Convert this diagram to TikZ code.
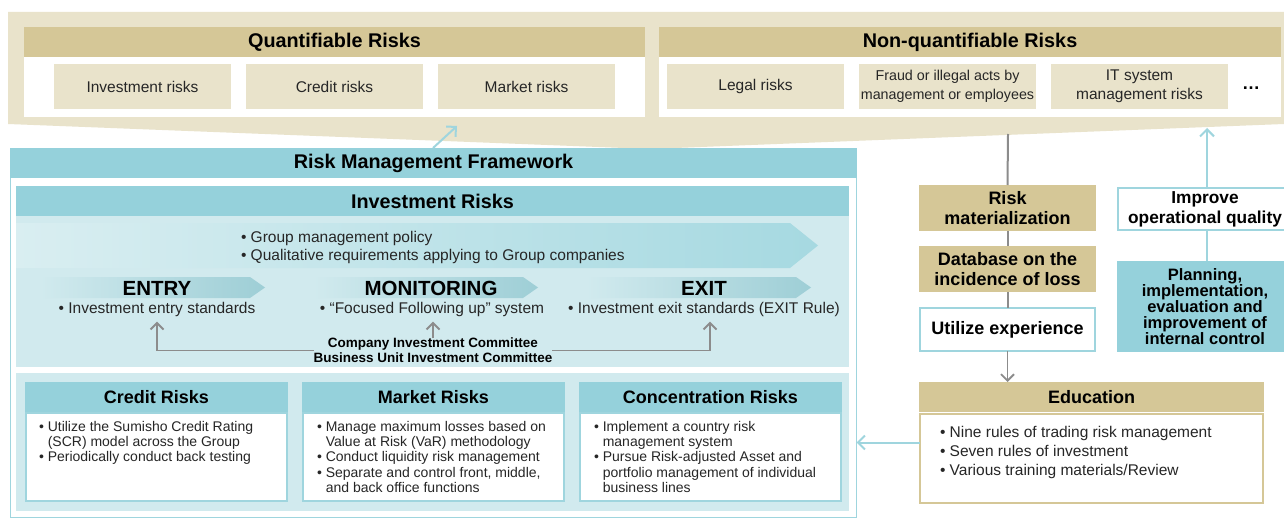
\documentclass[tikz,border=0pt]{standalone}
\usepackage{fontspec}
\setmainfont{Liberation Sans}
\usetikzlibrary{arrows.meta}
\newcommand\fsz[2]{\fontsize{#1}{#2}\selectfont}
\newcommand\ind{\phantom{•}\ }
\definecolor{tanC}{HTML}{D5C797}
\definecolor{beigeL}{HTML}{E9E3CB}
\definecolor{tealH}{HTML}{95D1DB}
\definecolor{tealL}{HTML}{D1EAEE}
\definecolor{tealB}{HTML}{9FD5DE}
\definecolor{tealA}{HTML}{A6D9E1}
\definecolor{tealS}{HTML}{D9EEF1}
\definecolor{greyA}{HTML}{8C8C8C}
\definecolor{txt}{HTML}{262626}
\begin{document}
\begin{tikzpicture}[x=1pt,y=-1pt,
  every node/.style={inner sep=0pt, outer sep=0pt},
  hdr/.style={align=center, text=black, font=\fsz{19.8}{24}\bfseries},
  tanhead/.style={hdr, fill=tanC},
  tealhead/.style={hdr, fill=tealH},
  smallhead/.style={align=center, text=black, font=\fsz{18}{22}\bfseries, minimum height=30pt},
  sub/.style={fill=beigeL, align=center, font=\fsz{15.5}{19}, text=txt, minimum width=177pt, minimum height=45pt},
  body/.style={text=txt, font=\fsz{15.5}{18}},
  small/.style={text=txt, font=\fsz{14}{15.3}, align=left, anchor=north west},
  phase/.style={text=black, font=\fsz{20.5}{24}\bfseries},
  riskbody/.style={draw=tealB, line width=2pt, fill=white, minimum width=261pt, minimum height=88pt},
  sidebox/.style={align=center, text=black, font=\fsz{18}{20}\bfseries},
  tealarr/.style={draw=tealB, line width=2pt, -{Straight Barb[length=7pt,width=14pt]}},
  greyarr/.style={draw=greyA, line width=1.8pt, -{Straight Barb[length=6.5pt,width=13pt]}},
  greyline/.style={draw=greyA, line width=2pt},
  tealline/.style={draw=tealB, line width=2pt}
]
\useasboundingbox (0,0) rectangle (1284,532);
\clip (0,0) rectangle (1284,532);
\fill[white] (0,0) rectangle (1284,532);

% ---------- top risk categories ----------
\fill[beigeL] (8,12) -- (1284,12) -- (1284,124) -- (650,149) -- (8,124) -- cycle;
\fill[white] (24,27) rectangle (645,117);
\fill[white] (659,27) rectangle (1281,117);
\node[tanhead, minimum width=621pt, minimum height=30pt] (qr) at (334.5,42) {Quantifiable Risks};
\node[sub] (q1) at (142.5,86.5) {Investment risks};
\node[sub] (q2) at (334.5,86.5) {Credit risks};
\node[sub] (q3) at (526.5,86.5) {Market risks};
\node[tanhead, minimum width=622pt, minimum height=30pt] (nq) at (970,42) {Non-quantifiable Risks};
\node[sub] (n1) at (755.5,86.5) {Legal risks};
\node[sub, font=\fsz{14.3}{19}] (n2) at (947.5,86.5) {Fraud or illegal acts by\\management or employees};
\node[sub] (n3) at (1139.5,86.5) {IT system\\management risks};
\node[font=\fsz{18}{20}\bfseries] (dots) at (1251,88) {…};

% ---------- right column ----------
\coordinate (gtop) at (1008,134);
\coordinate (upT) at (1207,128);
\node[sidebox, fill=tanC, minimum width=177pt, minimum height=46pt] (rm) at (1007.5,208) {Risk\\materialization};
\node[sidebox, fill=tanC, minimum width=177pt, minimum height=46pt] (db) at (1007.5,269) {Database on the\\incidence of loss};
\node[sidebox, draw=tealB, line width=2pt, fill=white, minimum width=175pt, minimum height=43pt] (ue) at (1007.5,329.5) {Utilize experience};
\node[smallhead, fill=tanC, minimum width=345pt] (edh) at (1091.5,397) {Education};
\node[draw=tanC, line width=2pt, fill=white, minimum width=343pt, minimum height=89pt] (edb) at (1091.5,458) {};
\node[body, anchor=west, align=left, font=\fsz{15.5}{18.7}] (edt) at (940,452.5) {• Nine rules of trading risk management\\• Seven rules of investment\\• Various training materials/Review};
\node[sidebox, draw=tealB, line width=2pt, fill=white, minimum width=174pt, minimum height=42pt, font=\fsz{17.3}{20}\bfseries] (imp) at (1205,209) {Improve\\operational quality};
\node[sidebox, fill=tealH, minimum width=176pt, minimum height=91pt, font=\fsz{16.5}{16}\bfseries] (plan) at (1205,306.5) {Planning,\\implementation,\\evaluation and\\improvement of\\internal control};
\draw[greyline] (gtop) -- (rm.north);
\draw[greyline] (rm.south) -- (db.north);
\draw[greyline] (db.south) -- (ue.north);
\draw[greyarr] (ue.south) -- (ue.south |- edh.north);
\draw[tealarr] (imp.north -| upT) -- (upT);
\draw[tealline] (imp.south -| upT) -- (plan.north -| upT);

% ---------- risk management framework ----------
\node[draw=tealB, line width=1pt, minimum width=846.5pt, minimum height=369pt] (frame) at (433.25,332.5) {};
\node[tealhead, minimum width=847pt, minimum height=30pt] (rmf) at (433.5,163) {Risk Management Framework};
\coordinate (ta1) at (433,148);
\coordinate (ta2) at (457,126);
\draw[tealarr] (ta1) -- (ta2);

% investment risks
\node[tealhead, minimum width=833pt, minimum height=30pt] (ir) at (432.5,201) {Investment Risks};
\node[fill=tealL, minimum width=833pt, minimum height=151pt] (irb) at (432.5,291.5) {};
\shade[left color=tealS, right color=tealA] (16,223) -- (790,223) -- (818,245.5) -- (790,268) -- (16,268) -- cycle;
\shade[left color=tealL, right color=tealA!95!black] (40,277) -- (250,277) -- (265,287.5) -- (250,298) -- (40,298) -- cycle;
\shade[left color=tealL, right color=tealA!95!black] (313,277) -- (523,277) -- (538,287.5) -- (523,298) -- (313,298) -- cycle;
\shade[left color=tealL, right color=tealA!95!black] (586,277) -- (796,277) -- (811,287.5) -- (796,298) -- (586,298) -- cycle;
\node[body, anchor=west, align=left] (pol) at (241,247) {• Group management policy\\• Qualitative requirements applying to Group companies};
\node[phase] (entry) at (157,288) {ENTRY};
\node[phase] (mon) at (431,288) {MONITORING};
\node[phase] (exit) at (704,288) {EXIT};
\node[body] (e1) at (157,309) {• Investment entry standards};
\node[body] (m1) at (432,309) {• “Focused Following up” system};
\node[body] (x1) at (704,309) {• Investment exit standards (EXIT Rule)};
\node[font=\fsz{13.5}{15}\bfseries, align=center, text=black] (comm) at (433,350.5) {Company Investment Committee\\Business Unit Investment Committee};
\coordinate (etip) at ([yshift=-5.5pt]e1.south);
\coordinate (mtip) at ([yshift=-5.5pt]m1.south);
\coordinate (xtip) at ([xshift=6pt,yshift=-5.5pt]x1.south);
\draw[greyarr] (comm.west) -| (etip);
\draw[greyarr] (comm.north) -- (comm.north |- mtip);
\draw[greyarr] (comm.east) -| (xtip);

% lower risk boxes
\node[fill=tealL, minimum width=833pt, minimum height=138pt] (rb) at (432.5,442) {};
\node[riskbody] (cb) at (156.5,457) {};
\node[riskbody] (mb) at (433.5,457) {};
\node[riskbody] (kb) at (710.5,457) {};
\node[smallhead, fill=tealH, minimum width=263pt] (ch) at (156.5,397) {Credit Risks};
\node[smallhead, fill=tealH, minimum width=263pt] (mh) at (433.5,397) {Market Risks};
\node[smallhead, fill=tealH, minimum width=263pt] (kh) at (710.5,397) {Concentration Risks};
\node[small] (ct) at (39,421) {• Utilize the Sumisho Credit Rating\\\ind (SCR) model across the Group\\• Periodically conduct back testing};
\node[small] (mt) at (317,421) {• Manage maximum losses based on\\\ind Value at Risk (VaR) methodology\\• Conduct liquidity risk management\\• Separate and control front, middle,\\\ind and back office functions};
\node[small] (kt) at (594,421) {• Implement a country risk\\\ind management system\\• Pursue Risk-adjusted Asset and\\\ind portfolio management of individual\\\ind business lines};

% education to framework
\coordinate (edA) at ([yshift=15.5pt]edb.west);
\draw[tealarr] (edA) -- (edA -| frame.east);
\end{tikzpicture}
\end{document}
